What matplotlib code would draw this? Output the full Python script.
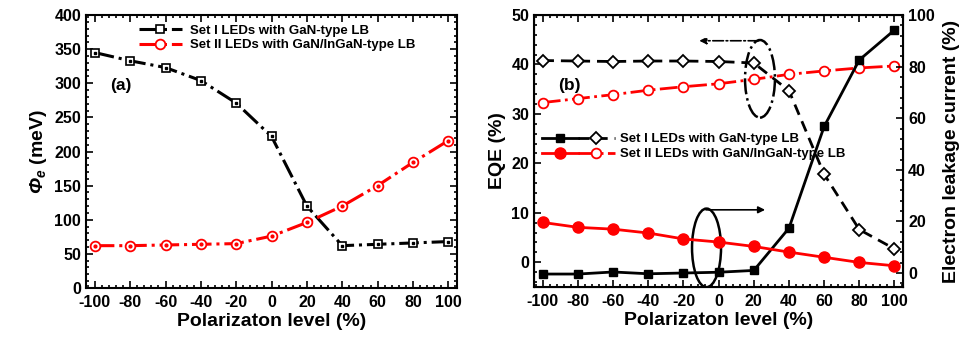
import matplotlib
matplotlib.use("Agg")
import matplotlib.pyplot as plt
from matplotlib.ticker import AutoMinorLocator, MultipleLocator
from matplotlib.patches import Ellipse
from matplotlib.legend_handler import HandlerTuple

plt.rcParams['font.family'] = ['Liberation Sans', 'DejaVu Sans']
plt.rcParams['font.weight'] = 'bold'
plt.rcParams['axes.unicode_minus'] = False
plt.rcParams['mathtext.fontset'] = 'custom'
plt.rcParams['mathtext.rm'] = 'Liberation Sans:italic:bold'
plt.rcParams['mathtext.it'] = 'Liberation Sans:italic:bold'

# polarization levels (%)
pol = [-100, -80, -60, -40, -20, 0, 20, 40, 60, 80, 100]

# (a) effective barrier height (meV)
phi_set1 = [345, 333, 323, 304, 271, 222, 120, 62, 64, 66, 68]
phi_set2 = [62, 62, 63, 64, 65, 76, 96, 120, 150, 184, 216]

# (b) EQE (%) and electron leakage current (%)
eqe_set1 = [40.8, 40.7, 40.6, 40.7, 40.7, 40.6, 40.3, 34.7, 17.8, 6.6, 2.7]
eqe_set2 = [32.3, 33.1, 33.9, 34.8, 35.5, 36.1, 37.0, 38.0, 38.7, 39.3, 39.7]
leak_set1 = [-0.4, -0.4, 0.4, -0.3, 0.0, 0.3, 1.0, 17.4, 56.8, 82.6, 94.2]
leak_set2 = [19.6, 17.7, 17.0, 15.5, 13.2, 12.0, 10.3, 8.1, 6.1, 4.1, 2.8]

lab1 = "Set I LEDs with GaN-type LB"
lab2 = "Set II LEDs with GaN/InGaN-type LB"

fig = plt.figure(figsize=(9.64, 3.42), dpi=100)
ax1 = fig.add_axes([0.0892, 0.158, 0.385, 0.798])
ax2 = fig.add_axes([0.554, 0.161, 0.383, 0.795])


def style_axis(ax, right=True):
    ax.tick_params(which='both', direction='in', top=True, right=right,
                   labelsize=11.5, width=1.2)
    ax.tick_params(which='major', length=5)
    ax.tick_params(which='minor', length=2.5)
    ax.tick_params(axis='x', pad=5)
    for s in ax.spines.values():
        s.set_linewidth(1.5)
    ax.xaxis.set_major_locator(MultipleLocator(20))
    ax.xaxis.set_minor_locator(AutoMinorLocator(5))
    ax.yaxis.set_minor_locator(AutoMinorLocator(5))
    for t in ax.get_xticklabels() + ax.get_yticklabels():
        t.set_fontweight('bold')


# ---- panel (a)
l1, = ax1.plot(pol, phi_set1, color='black', ls='-.', lw=2.2, marker='s', ms=6,
               mfc='white', mec='black', mew=1.2, label=lab1)
ax1.plot(pol, phi_set1, ls='none', marker='s', ms=1.5, color='black')
l2, = ax1.plot(pol, phi_set2, color='red', ls='-.', lw=2.2, marker='o', ms=7,
               mfc='white', mec='red', mew=1.3, label=lab2)
ax1.plot(pol, phi_set2, ls='none', marker='o', ms=2, color='red')
ax1.set_xlim(-105, 105)
ax1.set_ylim(0, 400)
ax1.yaxis.set_major_locator(MultipleLocator(50))
style_axis(ax1)
ax1.set_xlabel("Polarizaton level (%)", fontsize=14, fontweight='bold', labelpad=2)
ax1.set_ylabel(r"$\Phi_e$ (meV)", fontsize=14, fontweight='bold', labelpad=4)
ax1.text(-91.5, 297, "(a)", fontsize=12.5, fontweight='bold', va='center')
ax1.legend(handles=[l1, l2], loc='upper center', bbox_to_anchor=(0.515, 1.0),
           frameon=False, fontsize=9.5, handlelength=3.3, handletextpad=0.6,
           labelspacing=0.2, borderaxespad=0.3)

# ---- panel (b)
ax3 = ax2.twinx()
e1, = ax2.plot(pol, eqe_set1, color='black', ls='--', lw=2, marker='D', ms=6,
               mfc='white', mec='black', mew=1.3, dashes=(4, 2.5))
e2, = ax2.plot(pol, eqe_set2, color='red', ls='-.', lw=2, marker='o', ms=7,
               mfc='white', mec='red', mew=1.3)
k1, = ax3.plot(pol, leak_set1, color='black', ls='-', lw=2, marker='s', ms=6)
k2, = ax3.plot(pol, leak_set2, color='red', ls='-', lw=2, marker='o', ms=8)

ax2.set_xlim(-105, 105)
ax2.set_ylim(-5, 50)
ax3.set_ylim(-5.4, 100)
ax2.yaxis.set_major_locator(MultipleLocator(10))
ax3.yaxis.set_major_locator(MultipleLocator(20))
style_axis(ax2, right=False)
ax3.tick_params(which='both', direction='in', labelsize=11.5, width=1.2)
ax3.tick_params(which='major', length=5)
ax3.tick_params(which='minor', length=2.5)
ax3.yaxis.set_minor_locator(AutoMinorLocator(5))
for t in ax3.get_yticklabels():
    t.set_fontweight('bold')
ax2.set_xlabel("Polarizaton level (%)", fontsize=14, fontweight='bold', labelpad=2)
ax2.set_ylabel("EQE (%)", fontsize=14, fontweight='bold', labelpad=4)
ax3.set_ylabel("Electron leakage current (%)", fontsize=14, fontweight='bold',
               labelpad=6)
ax2.text(-91.5, 35.8, "(b)", fontsize=12.5, fontweight='bold', va='center')

# guide ellipses and arrows
ax2.add_patch(Ellipse((23.5, 37.1), 17, 15.7, fill=False, ec='black',
                      lw=1.8, ls='-.', zorder=5))
ax2.annotate("", xy=(-12.6, 44.8), xytext=(24.4, 44.8),
             arrowprops=dict(arrowstyle='-|>', color='black', lw=1.2, ls='-.',
                             mutation_scale=10))
ax2.add_patch(Ellipse((-6.9, 2.9), 16.5, 15.9, fill=False, ec='black',
                      lw=1.8, zorder=5))
ax2.annotate("", xy=(28, 10.6), xytext=(-8.8, 10.6),
             arrowprops=dict(arrowstyle='-|>', color='black', lw=1.2,
                             mutation_scale=10))

ax2.legend(handles=[(k1, e1), (k2, e2)], labels=[lab1, lab2],
           handler_map={tuple: HandlerTuple(ndivide=None, pad=0.0)},
           loc='upper left', bbox_to_anchor=(0.0, 0.595), frameon=False,
           fontsize=9.5, handlelength=5.5, handletextpad=0.4, labelspacing=0.2,
           borderaxespad=0.2)

fig.savefig("out.png", dpi=100)
